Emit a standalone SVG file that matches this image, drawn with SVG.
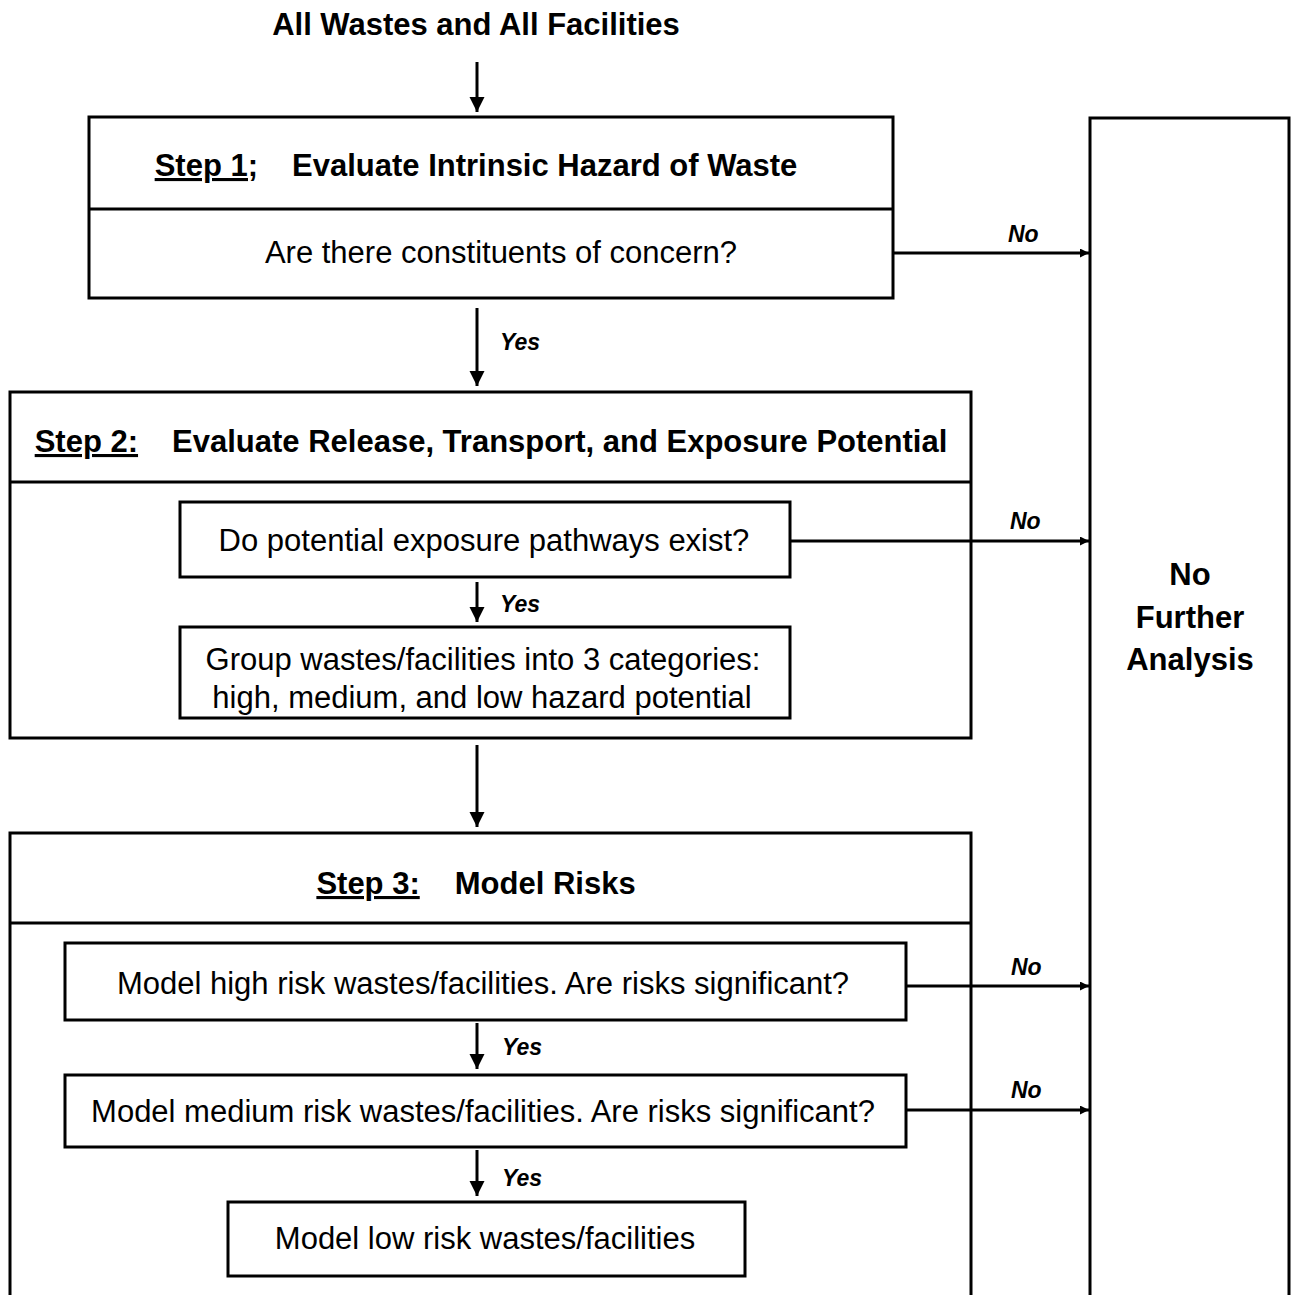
<svg xmlns="http://www.w3.org/2000/svg" width="1294" height="1295" viewBox="0 0 1294 1295">
<style>
.box{fill:#fff;stroke:#000;stroke-width:3}
.div{stroke:#000;stroke-width:3}
.ln{stroke:#000;stroke-width:3;fill:none}
.t{font-family:"Liberation Sans",Arial,sans-serif;font-size:31px;fill:#000;text-anchor:middle}
.b{font-weight:bold}
.i{font-family:"Liberation Sans",Arial,sans-serif;font-size:23px;font-style:italic;font-weight:bold;fill:#000}
.u{text-decoration:underline}
</style>
<defs>
<marker id="big" viewBox="0 0 10 10" refX="10" refY="5" markerWidth="5" markerHeight="9" markerUnits="strokeWidth" orient="auto"><path d="M0,0 L10,5 L0,10 z" fill="#000"/></marker>
<marker id="sm" viewBox="0 0 10 10" refX="10" refY="5" markerWidth="4" markerHeight="3" markerUnits="strokeWidth" orient="auto"><path d="M0,0 L10,5 L0,10 z" fill="#000"/></marker>
</defs>
<text class="t b" x="476" y="35">All Wastes and All Facilities</text>
<g id="step1">
<rect class="box" x="89" y="117" width="804" height="181"/>
<line class="div" x1="89" y1="209" x2="893" y2="209"/>
<text class="t b" x="476" y="176"><tspan class="u">Step 1;</tspan><tspan dx="34">Evaluate Intrinsic Hazard of Waste</tspan></text>
<text class="t" x="501" y="263">Are there constituents of concern?</text>
</g>
<g id="nofurther">
<rect class="box" x="1090" y="118" width="199" height="1190"/>
<text class="t b" x="1190" y="585">No</text>
<text class="t b" x="1190" y="628">Further</text>
<text class="t b" x="1190" y="670">Analysis</text>
</g>
<g id="step2">
<rect class="box" x="10" y="392" width="961" height="346"/>
<line class="div" x1="10" y1="482" x2="971" y2="482"/>
<text class="t b" x="491" y="452"><tspan class="u">Step 2:</tspan><tspan dx="34">Evaluate Release, Transport, and Exposure Potential</tspan></text>
</g>
<g id="pathways">
<rect class="box" x="180" y="502" width="610" height="75"/>
<text class="t" x="484" y="551">Do potential exposure pathways exist?</text>
</g>
<g id="group">
<rect class="box" x="180" y="627" width="610" height="91"/>
<text class="t" x="483" y="670">Group wastes/facilities into 3 categories:</text>
<text class="t" x="482" y="708">high, medium, and low hazard potential</text>
</g>
<g id="step3">
<rect class="box" x="10" y="833" width="961" height="480"/>
<line class="div" x1="10" y1="923" x2="971" y2="923"/>
<text class="t b" x="476" y="894"><tspan class="u">Step 3:</tspan><tspan dx="35">Model Risks</tspan></text>
</g>
<g id="high">
<rect class="box" x="65" y="943" width="841" height="77"/>
<text class="t" x="483" y="994">Model high risk wastes/facilities. Are risks significant?</text>
</g>
<g id="medium">
<rect class="box" x="65" y="1075" width="841" height="72"/>
<text class="t" x="483" y="1122">Model medium risk wastes/facilities. Are risks significant?</text>
</g>
<g id="low">
<rect class="box" x="228" y="1202" width="517" height="74"/>
<text class="t" x="485" y="1249">Model low risk wastes/facilities</text>
</g>
<g id="connectors">
<line class="ln" x1="477" y1="62" x2="477" y2="112" marker-end="url(#big)"/>
<line class="ln" x1="477" y1="308" x2="477" y2="386" marker-end="url(#big)"/>
<text class="i" x="500" y="350">Yes</text>
<line class="ln" x1="893" y1="253" x2="1089" y2="253" marker-end="url(#sm)"/>
<text class="i" x="1008" y="242">No</text>
<line class="ln" x1="790" y1="541" x2="1089" y2="541" marker-end="url(#sm)"/>
<text class="i" x="1010" y="529">No</text>
<line class="ln" x1="477" y1="582" x2="477" y2="622" marker-end="url(#big)"/>
<text class="i" x="500" y="612">Yes</text>
<line class="ln" x1="477" y1="745" x2="477" y2="827" marker-end="url(#big)"/>
<line class="ln" x1="906" y1="986" x2="1089" y2="986" marker-end="url(#sm)"/>
<text class="i" x="1011" y="975">No</text>
<line class="ln" x1="477" y1="1023" x2="477" y2="1069" marker-end="url(#big)"/>
<text class="i" x="502" y="1055">Yes</text>
<line class="ln" x1="906" y1="1110" x2="1089" y2="1110" marker-end="url(#sm)"/>
<text class="i" x="1011" y="1098">No</text>
<line class="ln" x1="477" y1="1150" x2="477" y2="1196" marker-end="url(#big)"/>
<text class="i" x="502" y="1186">Yes</text>
</g>
</svg>
